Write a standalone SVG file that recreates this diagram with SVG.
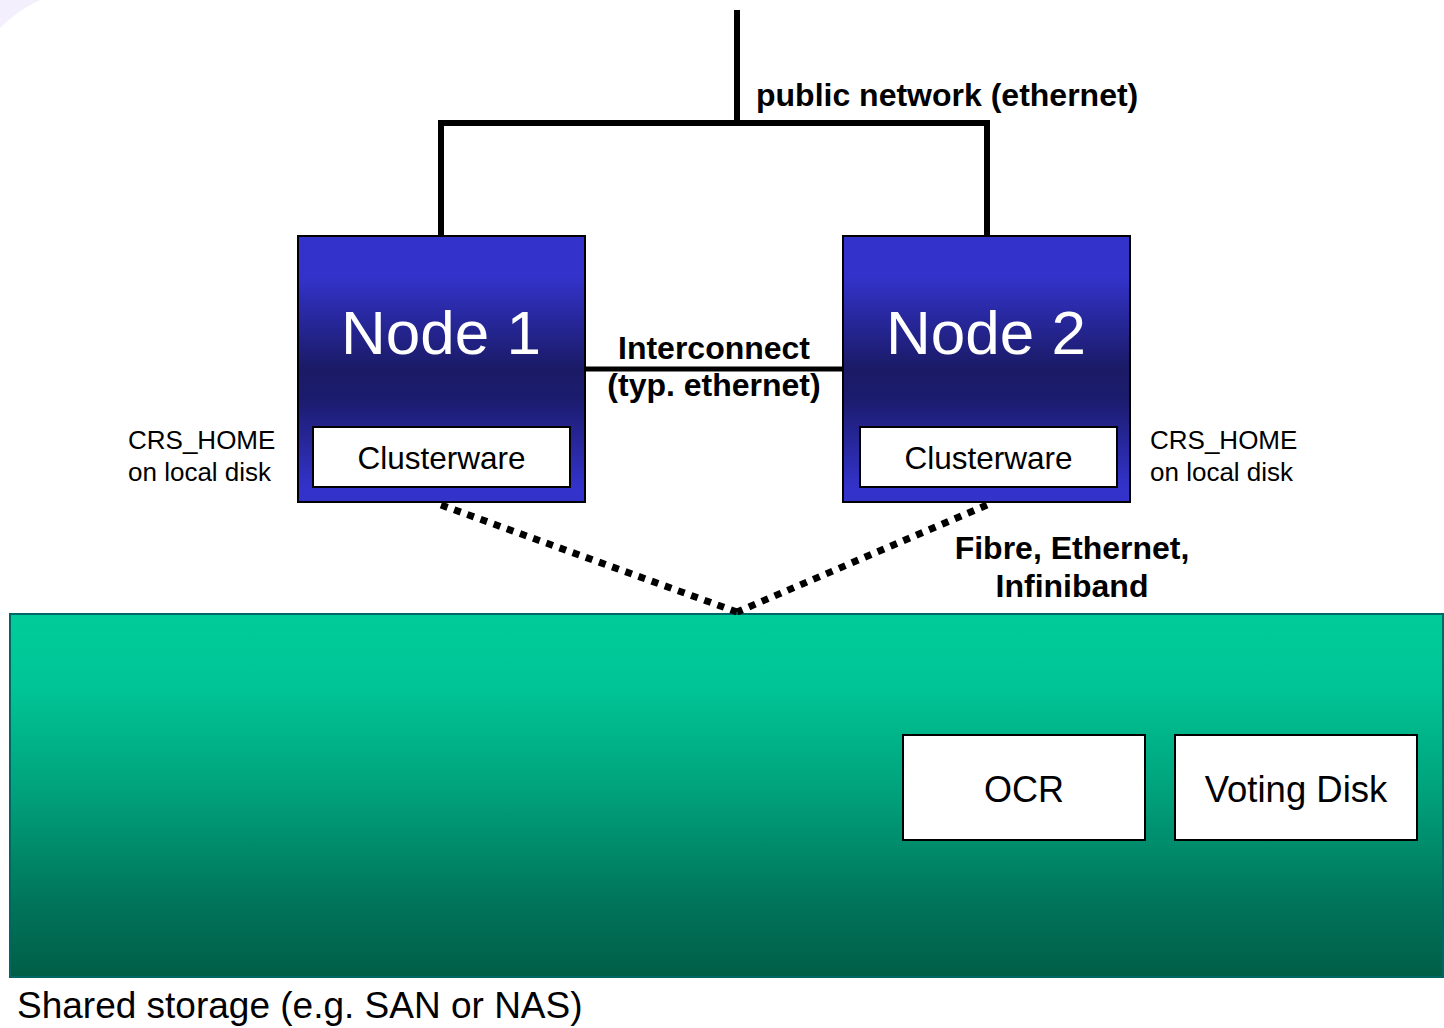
<svg xmlns="http://www.w3.org/2000/svg" width="1444" height="1028" viewBox="0 0 1444 1028">
<style>
.t{font-family:"Liberation Sans",Arial,sans-serif;fill:#000}
.b{font-weight:bold;font-size:32px}
.side{font-size:26px}
.node-title{font-size:62px;fill:#fff}
.cw{font-size:31.5px}
.solid{stroke:#000;stroke-width:6;fill:none}
.dot{stroke:#000;stroke-width:7;stroke-dasharray:7 7;fill:none}
.nodebox{fill:url(#gNode);stroke:#000;stroke-width:2}
.wbox{fill:#fff;stroke:#000;stroke-width:2}
</style>
<defs>
<linearGradient id="gNode" x1="0" y1="0" x2="0" y2="1">
<stop offset="0" stop-color="#3333cc"/>
<stop offset="0.15" stop-color="#3333cc"/>
<stop offset="0.5" stop-color="#1a1a66"/>
<stop offset="0.62" stop-color="#1c1c70"/>
<stop offset="0.95" stop-color="#3333cc"/>
<stop offset="1" stop-color="#3333cc"/>
</linearGradient>
<linearGradient id="gStore" x1="0" y1="0" x2="0" y2="1">
<stop offset="0" stop-color="#00cc99"/>
<stop offset="0.2" stop-color="#00c596"/>
<stop offset="0.5" stop-color="#00a07a"/>
<stop offset="0.8" stop-color="#00745a"/>
<stop offset="1" stop-color="#005e46"/>
</linearGradient>
</defs>
<rect width="1444" height="1028" fill="#fff"/>
<path d="M0 0 L40 0 Q18 10 0 28 Z" fill="#f3effc"/>

<g id="storage">
<rect x="10" y="614" width="1433" height="363" fill="url(#gStore)" stroke="#006666" stroke-width="2"/>
<text class="t" x="17" y="1018" font-size="37">Shared storage (e.g. SAN or NAS)</text>
</g>

<g id="connectors">
<path class="solid" d="M737 10 V123 M441 123 H987 M441 120 V236 M987 120 V236"/>
<path d="M585 369 H843" stroke="#000" stroke-width="5"/>
<path class="dot" d="M441 505 L737 612"/>
<path class="dot" d="M987 505 L737 612"/>
</g>

<g id="labels">
<text class="t b" x="756" y="106">public network (ethernet)</text>
<text class="t b" x="714" y="359" text-anchor="middle">Interconnect</text>
<text class="t b" x="714" y="396" text-anchor="middle">(typ. ethernet)</text>
<text class="t b" x="1072" y="559" text-anchor="middle">Fibre, Ethernet,</text>
<text class="t b" x="1072" y="597" text-anchor="middle">Infiniband</text>
</g>

<g id="node1">
<rect class="nodebox" x="298" y="236" width="287" height="266"/>
<text class="t node-title" x="441" y="354" text-anchor="middle">Node 1</text>
<rect class="wbox" x="313" y="427" width="257" height="60"/>
<text class="t cw" x="441.5" y="469" text-anchor="middle">Clusterware</text>
<text class="t side" x="128" y="449">CRS_HOME</text>
<text class="t side" x="128" y="481">on local disk</text>
</g>

<g id="node2">
<rect class="nodebox" x="843" y="236" width="287" height="266"/>
<text class="t node-title" x="986" y="354" text-anchor="middle">Node 2</text>
<rect class="wbox" x="860" y="427" width="257" height="60"/>
<text class="t cw" x="988.5" y="469" text-anchor="middle">Clusterware</text>
<text class="t side" x="1150" y="449">CRS_HOME</text>
<text class="t side" x="1150" y="481">on local disk</text>
</g>

<g id="ocr">
<rect class="wbox" x="903" y="735" width="242" height="105"/>
<text class="t" x="1024" y="802" font-size="36" text-anchor="middle">OCR</text>
</g>

<g id="voting">
<rect class="wbox" x="1175" y="735" width="242" height="105"/>
<text class="t" x="1296" y="802" font-size="36.5" text-anchor="middle">Voting Disk</text>
</g>
</svg>
